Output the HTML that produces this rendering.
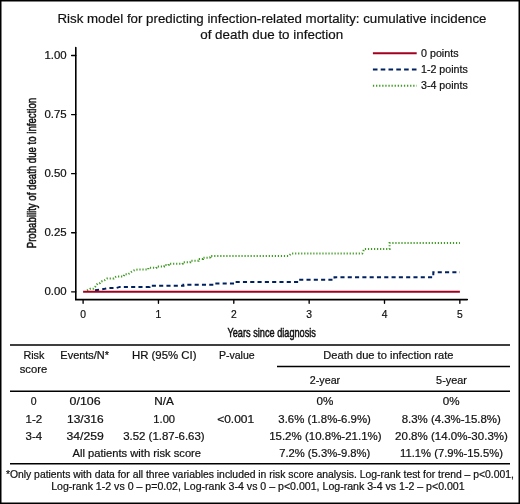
<!DOCTYPE html>
<html><head><meta charset="utf-8"><title>Risk model chart</title>
<style>
html,body{margin:0;padding:0;background:#fff;}
body{width:520px;height:504px;overflow:hidden;}
svg{display:block;font-family:'Liberation Sans', sans-serif;fill:#000;will-change:transform;}
svg text{fill:#111;stroke:#111;stroke-width:0.2px;}
</style></head>
<body>
<svg width="520" height="504" viewBox="0 0 520 504">
<rect x="0" y="0" width="520" height="504" fill="#fff"/>
<text x="272" y="22.6" font-size="13.5" text-anchor="middle" textLength="429" lengthAdjust="spacingAndGlyphs">Risk model for predicting infection-related mortality: cumulative incidence</text>
<text x="271.7" y="39.3" font-size="13.5" text-anchor="middle" textLength="143" lengthAdjust="spacingAndGlyphs">of death due to infection</text>
<path d="M75.8,47.6 V299.6 H467.3" fill="none" stroke="#000" stroke-width="1.6" stroke-linecap="round"/>
<path d="M71.6,291.80 H75.8 M71.6,232.73 H75.8 M71.6,173.66 H75.8 M71.6,114.59 H75.8 M71.6,55.52 H75.8 M83.10,300.2 V303.2 M158.45,300.2 V303.2 M233.80,300.2 V303.2 M309.15,300.2 V303.2 M384.50,300.2 V303.2 M459.85,300.2 V303.2" fill="none" stroke="#000" stroke-width="1.35" stroke-linecap="round"/>
<text x="66.6" y="295.4" font-size="10.3" text-anchor="end" textLength="22.2" lengthAdjust="spacingAndGlyphs">0.00</text>
<text x="66.6" y="236.33" font-size="10.3" text-anchor="end" textLength="22.2" lengthAdjust="spacingAndGlyphs">0.25</text>
<text x="66.6" y="177.26" font-size="10.3" text-anchor="end" textLength="22.2" lengthAdjust="spacingAndGlyphs">0.50</text>
<text x="66.6" y="118.19" font-size="10.3" text-anchor="end" textLength="22.2" lengthAdjust="spacingAndGlyphs">0.75</text>
<text x="66.6" y="59.12" font-size="10.3" text-anchor="end" textLength="22.2" lengthAdjust="spacingAndGlyphs">1.00</text>
<text x="83.1" y="318.1" font-size="10.3" text-anchor="middle">0</text>
<text x="158.45" y="318.1" font-size="10.3" text-anchor="middle">1</text>
<text x="233.8" y="318.1" font-size="10.3" text-anchor="middle">2</text>
<text x="309.15" y="318.1" font-size="10.3" text-anchor="middle">3</text>
<text x="384.5" y="318.1" font-size="10.3" text-anchor="middle">4</text>
<text x="459.85" y="318.1" font-size="10.3" text-anchor="middle">5</text>
<text x="271.7" y="336.7" font-size="12.6" text-anchor="middle" textLength="88.5" lengthAdjust="spacingAndGlyphs" style="stroke-width:0.5px">Years since diagnosis</text>
<text transform="translate(35.9,173.05) rotate(-90)" x="0" y="0" font-size="12.6" text-anchor="middle" textLength="150.5" lengthAdjust="spacingAndGlyphs" style="stroke-width:0.5px">Probability of death due to infection</text>
<path d="M87,290.4 L90.2,288.8 H93.2 L94.8,287.3 L96.3,285.4 L97.5,283.5 L100.2,283.1 L101.3,281.5 L103.2,280.8 L105.2,280 L107.1,278.5 H113.8 L114.8,277.3 L116.5,276.5 H123.6 L124.4,274.3 H128 L130,273 L131.5,271.8 L133.8,270.5 L135.8,269.7 L138.5,269.4 H148.3 V267.8 H156.3 V266.6 H164 V265.1 H168.6 V263.7 H182.6 V262.2 H190.2 V260.8 H198.5 V259.1 H203 V257.7 H209.5 L210.5,257.1 V255.9 H288.5 L291.5,253.4 H362.3 L364.3,248.9 H389.6 V243.0 H459.9" fill="none" stroke="#3f9b22" stroke-width="2" stroke-dasharray="1.2 1.83" stroke-dashoffset="0"/>
<path d="M95,290.3 L99.8,289.6 L104.8,288.8 L108.2,288.1 H115.9 L119.8,286.9 H149.5 V285.7 H183.4 V284.7 H215.2 V283.5 H234.5 V281.9 H298.2 V279.75 H334.5 V277.2 H433.3 V272.3 H459.9" fill="none" stroke="#00215f" stroke-width="2" stroke-dasharray="4.1 3.2" stroke-dashoffset="0"/>
<path d="M83.1,291.85 H459.9" fill="none" stroke="#a3001f" stroke-width="2"/>
<path d="M372.9,53.2 H416.7" stroke="#a3001f" stroke-width="2" fill="none"/>
<path d="M372.9,69.5 H416.7" stroke="#00215f" stroke-width="2" fill="none" stroke-dasharray="4.6 3.2"/>
<path d="M372.9,85.7 H416.7" stroke="#3f9b22" stroke-width="2" fill="none" stroke-dasharray="1.3 1.8"/>
<text x="421.0" y="56.6" font-size="10.3" text-anchor="start" textLength="37.5" lengthAdjust="spacingAndGlyphs">0 points</text>
<text x="421.0" y="72.8" font-size="10.3" text-anchor="start" textLength="46.8" lengthAdjust="spacingAndGlyphs">1-2 points</text>
<text x="421.0" y="88.9" font-size="10.3" text-anchor="start" textLength="46.8" lengthAdjust="spacingAndGlyphs">3-4 points</text>
<path d="M10,345.1 H510 M277,366.5 H510 M10,391.2 H510 M10,463.7 H510" stroke="#000" stroke-width="1.5" fill="none"/>
<text x="33.9" y="358.9" font-size="10.5" text-anchor="middle" textLength="21" lengthAdjust="spacingAndGlyphs">Risk</text>
<text x="33.4" y="373.3" font-size="10.5" text-anchor="middle" textLength="27.5" lengthAdjust="spacingAndGlyphs">score</text>
<text x="84.7" y="359.2" font-size="10.5" text-anchor="middle" textLength="48.7" lengthAdjust="spacingAndGlyphs">Events/N*</text>
<text x="164.2" y="359.2" font-size="10.5" text-anchor="middle" textLength="64.5" lengthAdjust="spacingAndGlyphs">HR (95% CI)</text>
<text x="236.8" y="359.2" font-size="10.5" text-anchor="middle" textLength="35.8" lengthAdjust="spacingAndGlyphs">P-value</text>
<text x="388.4" y="359.2" font-size="10.5" text-anchor="middle" textLength="130.2" lengthAdjust="spacingAndGlyphs">Death due to infection rate</text>
<text x="325.0" y="383.8" font-size="10.5" text-anchor="middle" textLength="30.4" lengthAdjust="spacingAndGlyphs">2-year</text>
<text x="451.5" y="383.8" font-size="10.5" text-anchor="middle" textLength="30.8" lengthAdjust="spacingAndGlyphs">5-year</text>
<text x="33.7" y="405.4" font-size="10.5" text-anchor="middle">0</text>
<text x="33.8" y="422.5" font-size="10.5" text-anchor="middle" textLength="16.6" lengthAdjust="spacingAndGlyphs">1-2</text>
<text x="33.8" y="439.6" font-size="10.5" text-anchor="middle" textLength="16.6" lengthAdjust="spacingAndGlyphs">3-4</text>
<text x="85.1" y="405.4" font-size="10.5" text-anchor="middle" textLength="31.0" lengthAdjust="spacingAndGlyphs">0/106</text>
<text x="85.3" y="422.5" font-size="10.5" text-anchor="middle" textLength="36.5" lengthAdjust="spacingAndGlyphs">13/316</text>
<text x="85.1" y="439.6" font-size="10.5" text-anchor="middle" textLength="37.3" lengthAdjust="spacingAndGlyphs">34/259</text>
<text x="164.0" y="405.4" font-size="10.5" text-anchor="middle" textLength="19.6" lengthAdjust="spacingAndGlyphs">N/A</text>
<text x="164.2" y="422.5" font-size="10.5" text-anchor="middle" textLength="21.8" lengthAdjust="spacingAndGlyphs">1.00</text>
<text x="163.9" y="439.6" font-size="10.5" text-anchor="middle" textLength="81.5" lengthAdjust="spacingAndGlyphs">3.52 (1.87-6.63)</text>
<text x="235.7" y="422.5" font-size="10.5" text-anchor="middle" textLength="37.0" lengthAdjust="spacingAndGlyphs">&lt;0.001</text>
<text x="325.0" y="405.4" font-size="10.5" text-anchor="middle" textLength="16.8" lengthAdjust="spacingAndGlyphs">0%</text>
<text x="324.6" y="422.5" font-size="10.5" text-anchor="middle" textLength="92.5" lengthAdjust="spacingAndGlyphs">3.6% (1.8%-6.9%)</text>
<text x="325.4" y="439.6" font-size="10.5" text-anchor="middle" textLength="112.5" lengthAdjust="spacingAndGlyphs">15.2% (10.8%-21.1%)</text>
<text x="451.25" y="405.4" font-size="10.5" text-anchor="middle" textLength="16.8" lengthAdjust="spacingAndGlyphs">0%</text>
<text x="451.25" y="422.5" font-size="10.5" text-anchor="middle" textLength="99.2" lengthAdjust="spacingAndGlyphs">8.3% (4.3%-15.8%)</text>
<text x="451.5" y="439.6" font-size="10.5" text-anchor="middle" textLength="112.8" lengthAdjust="spacingAndGlyphs">20.8% (14.0%-30.3%)</text>
<text x="136.8" y="456.8" font-size="10.5" text-anchor="middle" textLength="128.5" lengthAdjust="spacingAndGlyphs">All patients with risk score</text>
<text x="324.75" y="456.8" font-size="10.5" text-anchor="middle" textLength="91.2" lengthAdjust="spacingAndGlyphs">7.2% (5.3%-9.8%)</text>
<text x="451.5" y="456.8" font-size="10.5" text-anchor="middle" textLength="102.8" lengthAdjust="spacingAndGlyphs">11.1% (7.9%-15.5%)</text>
<text x="259.9" y="478.1" font-size="10" text-anchor="middle" textLength="508" lengthAdjust="spacingAndGlyphs">*Only patients with data for all three variables included in risk score analysis. Log-rank test for trend – p&lt;0.001,</text>
<text x="257.9" y="490.4" font-size="10" text-anchor="middle" textLength="413.5" lengthAdjust="spacingAndGlyphs">Log-rank 1-2 vs 0 – p=0.02, Log-rank 3-4 vs 0 – p&lt;0.001, Log-rank 3-4 vs 1-2 – p&lt;0.001</text>
<rect x="0.75" y="0.75" width="518.5" height="502.5" fill="none" stroke="#000" stroke-width="1.5"/>
</svg>
</body></html>
